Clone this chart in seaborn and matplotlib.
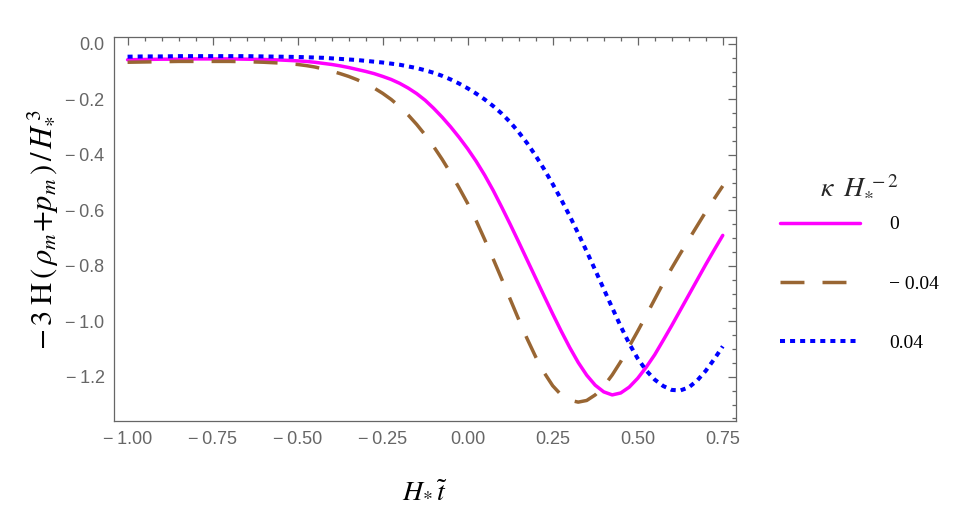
import numpy as np
import pandas as pd
import matplotlib
matplotlib.use("Agg")
import matplotlib.pyplot as plt
from matplotlib.ticker import MultipleLocator, FuncFormatter
import seaborn as sns

# ---- data ----
t = [-1.00, -0.95, -0.90, -0.85, -0.80, -0.75, -0.70, -0.65, -0.60, -0.55,
     -0.500, -0.475, -0.450, -0.425, -0.400, -0.375, -0.350, -0.325, -0.300, -0.275,
     -0.250, -0.225, -0.200, -0.175, -0.150, -0.125, -0.100, -0.075, -0.050, -0.025,
     0.000, 0.025, 0.050, 0.075, 0.100, 0.125, 0.150, 0.175, 0.200, 0.225,
     0.250, 0.275, 0.300, 0.325, 0.350, 0.375, 0.400, 0.425, 0.450, 0.475,
     0.500, 0.525, 0.550, 0.575, 0.600, 0.625, 0.650, 0.675, 0.700, 0.725, 0.750]

k_zero = [-0.057, -0.056, -0.055, -0.055, -0.054, -0.054, -0.054, -0.055, -0.056, -0.058,
          -0.061, -0.063, -0.066, -0.070, -0.074, -0.079, -0.085, -0.092, -0.099, -0.107,
          -0.117, -0.128, -0.142, -0.159, -0.179, -0.203, -0.232, -0.264, -0.299, -0.337,
          -0.378, -0.423, -0.473, -0.528, -0.588, -0.650, -0.714, -0.779, -0.844, -0.909,
          -0.973, -1.035, -1.094, -1.148, -1.194, -1.230, -1.254, -1.265, -1.258, -1.237,
          -1.205, -1.165, -1.120, -1.068, -1.015, -0.960, -0.905, -0.850, -0.795, -0.742, -0.690]

k_neg = [-0.066, -0.065, -0.064, -0.063, -0.063, -0.063, -0.063, -0.064, -0.066, -0.069,
         -0.074, -0.078, -0.083, -0.090, -0.098, -0.107, -0.117, -0.129, -0.143, -0.159,
         -0.178, -0.200, -0.226, -0.256, -0.290, -0.328, -0.370, -0.416, -0.466, -0.519,
         -0.575, -0.637, -0.705, -0.775, -0.847, -0.920, -0.993, -1.063, -1.128, -1.185,
         -1.232, -1.265, -1.284, -1.291, -1.285, -1.265, -1.234, -1.193, -1.145, -1.090,
         -1.035, -0.978, -0.920, -0.862, -0.808, -0.756, -0.705, -0.655, -0.605, -0.558, -0.512]

k_pos = [-0.046, -0.045, -0.045, -0.044, -0.044, -0.044, -0.044, -0.044, -0.045, -0.046,
         -0.047, -0.048, -0.049, -0.050, -0.052, -0.054, -0.056, -0.058, -0.061, -0.064,
         -0.067, -0.071, -0.075, -0.081, -0.087, -0.095, -0.104, -0.115, -0.128, -0.143,
         -0.160, -0.179, -0.200, -0.224, -0.251, -0.282, -0.318, -0.358, -0.403, -0.452,
         -0.505, -0.561, -0.620, -0.683, -0.748, -0.815, -0.883, -0.951, -1.018, -1.080,
         -1.134, -1.177, -1.210, -1.233, -1.247, -1.249, -1.238, -1.213, -1.178, -1.136, -1.090]

series_labels = ["0", "\u2212 0.04", "0.04"]
series_values = [k_zero, k_neg, k_pos]

x_ticks = [-1.00, -0.75, -0.50, -0.25, 0.00, 0.25, 0.50, 0.75]
y_ticks = [0.0, -0.2, -0.4, -0.6, -0.8, -1.0, -1.2]

rows = []
for lab, vals in zip(series_labels, series_values):
    for xv, yv in zip(t, vals):
        rows.append({"t": xv, "val": yv, "kappa": lab})
df = pd.DataFrame(rows)

# ---- style ----
sns.set_theme(style="white")
plt.rcParams["font.family"] = ["Liberation Sans", "DejaVu Sans"]
plt.rcParams["mathtext.fontset"] = "stix"

fig = plt.figure(figsize=(9.55, 5.17), dpi=100)
ax = fig.add_axes([0.1197, 0.1857, 0.6510, 0.7422])

palette = {"0": "#FF00FF", "\u2212 0.04": "#996633", "0.04": "#0000FF"}
dashes = {"0": "", "\u2212 0.04": (6.9, 5.2), "0.04": (1.25, 1.25)}

sns.lineplot(data=df, x="t", y="val", hue="kappa", style="kappa",
             palette=palette, dashes=dashes, hue_order=series_labels,
             style_order=series_labels, estimator=None, sort=True,
             linewidth=2.5, legend=False, ax=ax)
for ln in ax.lines:
    ln.set_dash_capstyle("butt")
    ln.set_solid_joinstyle("round")
ax.lines[2].set_linewidth(2.9)

ax.set_xlim(-1.039, 0.789)
ax.set_ylim(-1.359, 0.024)

gray = "#666666"
ax.set_xticks(x_ticks)
ax.set_yticks(y_ticks)
ax.xaxis.set_minor_locator(MultipleLocator(0.05))
ax.yaxis.set_minor_locator(MultipleLocator(0.05))

def fmt(dec):
    def f(v, pos):
        s = f"{abs(v):.{dec}f}"
        if v < -1e-9:
            return "\u2212\u2009" + s
        return s
    return FuncFormatter(f)

ax.xaxis.set_major_formatter(fmt(2))
ax.yaxis.set_major_formatter(fmt(1))

ax.tick_params(axis="both", which="both", direction="in", top=True, right=True,
               color=gray, labelcolor=gray, labelsize=13, width=0.9)
ax.tick_params(axis="both", which="major", length=6, pad=7)
ax.tick_params(axis="both", which="minor", length=3)
for sp in ax.spines.values():
    sp.set_color(gray)
    sp.set_linewidth(0.9)

ax.set_xlabel(r"$H_{*}\,\tilde{t}$", fontsize=20, color="black", labelpad=21)
ax.set_ylabel(r"$-\,3\;\mathrm{H}\,(\,\rho_m\!+\!p_m\,)\,/\,H_{*}^{\,3}$",
              fontsize=22, color="black", labelpad=5)

handles = ax.lines[:3]
leg = ax.legend(handles, series_labels, loc="upper left",
                bbox_to_anchor=(1.071, 0.646), frameon=False,
                borderpad=0, borderaxespad=0,
                handlelength=4.1, handletextpad=1.5, labelspacing=2.15,
                prop={"family": "Liberation Serif", "size": 14},
                title=r"$\kappa\;\;H_{*}^{\,-2}$", title_fontsize=20)
leg._legend_box.sep = 12
for txt in leg.get_texts():
    txt.set_color("black")

fig.savefig("out.png", dpi=100)
